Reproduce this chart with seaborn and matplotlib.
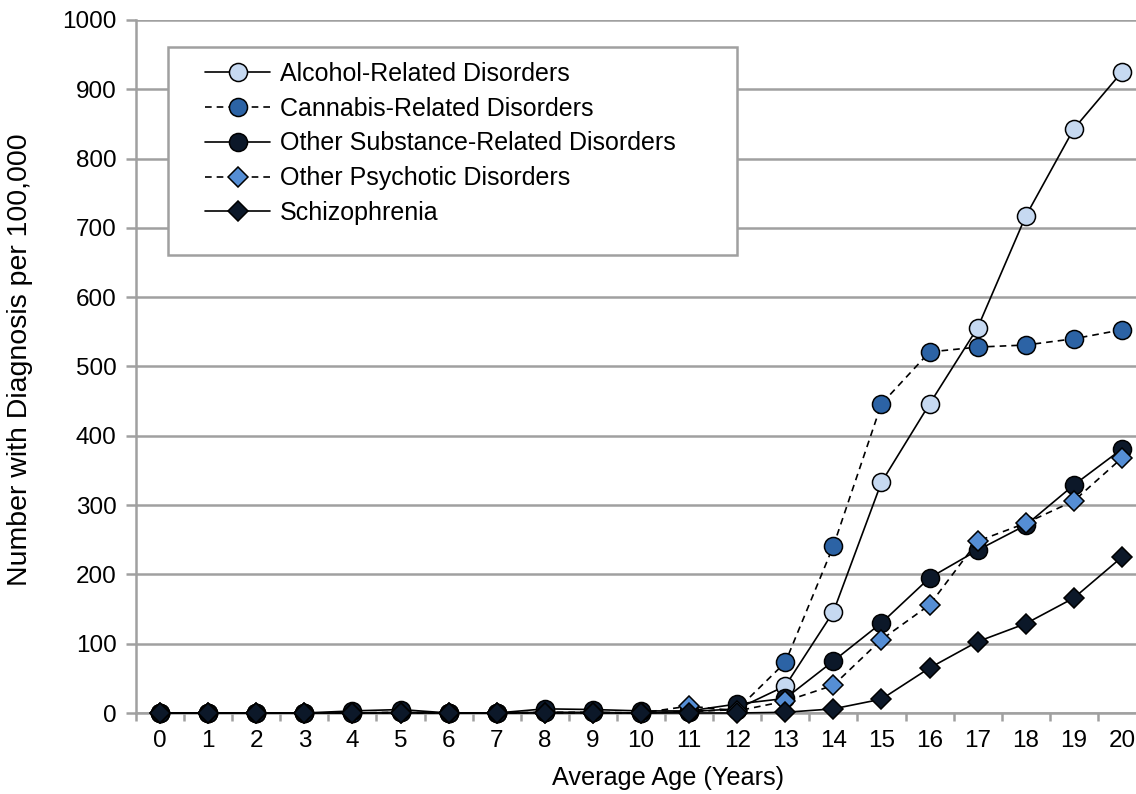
import numpy as np
import pandas as pd
import matplotlib
matplotlib.use("Agg")
import matplotlib.pyplot as plt
from matplotlib.patches import Rectangle
from matplotlib.ticker import MultipleLocator, FixedLocator
import seaborn as sns

ages = list(range(0, 21))
alcohol = [0, 0, 0, 0, 0, 1, 0, 0, 1, 1, 0, 2, 6, 39, 146, 333, 446, 556, 717, 843, 925]
cannabis = [0, 0, 0, 0, 0, 1, 0, 0, 1, 1, 0, 2, 5, 73, 241, 446, 521, 528, 531, 540, 553]
other_substance = [0, 0, 0, 0, 3, 5, 0, 0, 6, 5, 3, 3, 13, 21, 75, 130, 195, 235, 271, 329, 381]
other_psychotic = [0, 0, 0, 0, 0, 0, 0, 0, 0, 0, 0, 10, 3, 17, 40, 106, 156, 248, 274, 306, 368]
schizophrenia = [0, 0, 0, 0, 0, 0, 0, 0, 0, 0, 0, 0, 0, 1, 6, 20, 65, 103, 129, 166, 225]

series_names = ["Alcohol-Related Disorders", "Cannabis-Related Disorders",
                "Other Substance-Related Disorders", "Other Psychotic Disorders",
                "Schizophrenia"]
series_values = [alcohol, cannabis, other_substance, other_psychotic, schizophrenia]
fills = ["#C6D9F1", "#2C63A5", "#0C1829", "#558ED5", "#0C1829"]
markers = ["o", "o", "o", "D", "D"]
msizes = [13, 13, 13, 9.8, 9.8]
styles = ["-", "--", "-", "--", "-"]

sns.set_theme(style="white")
plt.rcParams["font.family"] = ["Liberation Sans", "DejaVu Sans"]
plt.rcParams["text.color"] = "black"
plt.rcParams["axes.labelcolor"] = "black"
plt.rcParams["xtick.color"] = "black"
plt.rcParams["ytick.color"] = "black"
plt.rcParams["lines.dashed_pattern"] = [4.0, 3.0]

W, H = 1136, 794
fig = plt.figure(figsize=(W / 100, H / 100), dpi=100)
ax = fig.add_axes([136 / W, 1 - 713 / H, (1146 - 136) / W, (713 - 20) / H])

grid_col = "#A0A0A0"
for name, vals, fc, mk, ms, ls in zip(series_names, series_values, fills, markers, msizes, styles):
    df = pd.DataFrame({"age": ages, "value": vals})
    sns.lineplot(data=df, x="age", y="value", ax=ax, color="black", linewidth=1.2,
                 linestyle=ls, marker=mk, markersize=ms, markerfacecolor=fc,
                 markeredgecolor="black", markeredgewidth=1.1, label=name,
                 zorder=4, clip_on=False)

ax.set_xlim(-0.5, 20.5)
ax.set_ylim(0, 1000)
ax.yaxis.set_major_locator(MultipleLocator(100))
ax.xaxis.set_major_locator(FixedLocator(ages))
ax.xaxis.set_minor_locator(FixedLocator([a + 0.5 for a in range(-1, 21)]))
ax.set_xticklabels([str(a) for a in ages])
ax.grid(axis="y", color=grid_col, linewidth=1.8, zorder=0)
ax.grid(axis="x", visible=False)
ax.set_axisbelow(True)
for s in ["top", "right"]:
    ax.spines[s].set_visible(False)
for s in ["left", "bottom"]:
    ax.spines[s].set_color(grid_col)
    ax.spines[s].set_linewidth(1.8)
ax.tick_params(axis="x", which="major", length=0, pad=12, labelsize=17.5, labelcolor="black")
ax.tick_params(axis="x", which="minor", length=6, width=1.8, color=grid_col, direction="out", bottom=True)
ax.tick_params(axis="y", which="major", length=7, width=1.8, color=grid_col, direction="out",
               labelsize=17.5, labelcolor="black", pad=7, left=True)

ax.set_xlabel("Average Age (Years)", fontsize=18.2, color="black")
ax.xaxis.set_label_coords((668 - 136) / 1010, -(778 - 713) / 693)
ax.xaxis.label.set_va("center")
ax.set_ylabel("Number with Diagnosis per 100,000", fontsize=20.5, color="black")
ax.yaxis.set_label_coords(-(136 - 20) / 1010, (713 - 360) / 693)
ax.yaxis.label.set_va("center")

# legend frame
rect = Rectangle((168 / W, 1 - 255 / H), (737 - 168) / W, (255 - 47) / H,
                 transform=fig.transFigure, facecolor="white", edgecolor="#A0A0A0",
                 linewidth=1.8, zorder=5, clip_on=False)
ax.add_patch(rect)

leg = ax.legend(loc="upper left", bbox_to_anchor=(205 / W, 1 - 62 / H),
                bbox_transform=fig.transFigure, frameon=False, fontsize=18,
                handlelength=2.6, handletextpad=0.4, labelspacing=0.43,
                borderpad=0, borderaxespad=0, labelcolor="black")
leg.set_zorder(6)

fig.savefig("out.png", dpi=100)
